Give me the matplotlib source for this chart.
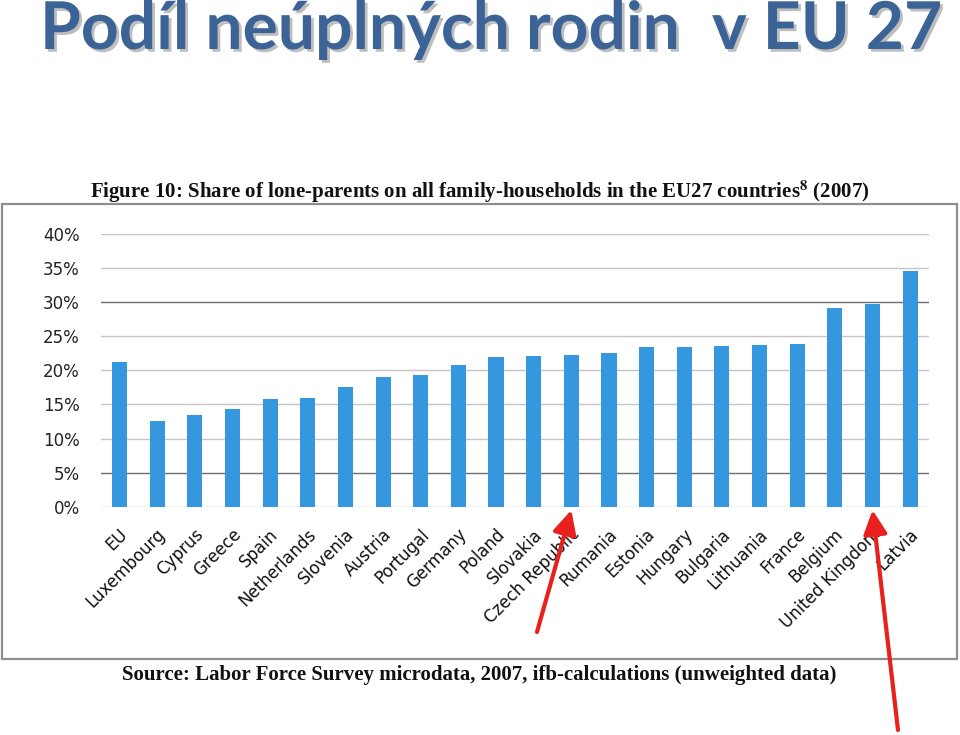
import numpy as np
import matplotlib
matplotlib.use("Agg")
import matplotlib.pyplot as plt
import matplotlib.patches as mpatches
import matplotlib.patheffects as pe
from matplotlib.ticker import PercentFormatter
from matplotlib.transforms import ScaledTranslation

# data
countries = ["EU", "Luxembourg", "Cyprus", "Greece", "Spain", "Netherlands",
             "Slovenia", "Austria", "Portugal", "Germany", "Poland", "Slovakia",
             "Czech Republic", "Rumania", "Estonia", "Hungary", "Bulgaria",
             "Lithuania", "France", "Belgium", "United Kingdom", "Latvia"]
share = [21.2, 12.6, 13.4, 14.4, 15.8, 16.0, 17.6, 19.0, 19.3, 20.8, 22.0, 22.1,
         22.3, 22.5, 23.4, 23.4, 23.5, 23.7, 23.8, 29.1, 29.7, 34.6]
highlight = ["Czech Republic", "United Kingdom"]
y_ticks = [0, 5, 10, 15, 20, 25, 30, 35, 40]

BAR = "#3597dd"
TITLE_BLUE = "#3b6396"
ARROW_RED = "#e8201e"

fig = plt.figure(figsize=(9.6, 7.35), dpi=100)
W, H = 960, 735

# outer frame of the pasted figure
frame = mpatches.Rectangle((2 / W, (H - 659) / H), 955 / W, (659 - 204) / H,
                           transform=fig.transFigure, fill=False,
                           edgecolor="#8f8f8f", lw=1.6, zorder=0)
fig.add_artist(frame)

ax = fig.add_axes([100.7 / W, (H - 506.7) / H, (929 - 100.7) / W, (506.7 - 234) / H])
x = np.arange(len(countries))
vals = np.array(share) / 100
ax.bar(x, vals, width=0.4, color=BAR, zorder=3)

ax.set_xlim(-0.5, len(countries) - 0.5)
ax.set_ylim(0, 0.40)
ax.set_yticks(np.array(y_ticks) / 100)
ax.yaxis.set_major_formatter(PercentFormatter(1.0, decimals=0))
ax.grid(axis="y", color="#c4c4c4", lw=1.0, zorder=0)
for i, gl in enumerate(ax.get_ygridlines()):
    if y_ticks[i] in (5, 30):
        gl.set_color("#6e6e6e")
for s in ax.spines.values():
    s.set_visible(False)
ax.tick_params(axis="both", length=0)
ax.tick_params(axis="y", pad=15, labelsize=12, labelcolor="#222222")

ax.set_xticks(x)
ax.set_xticklabels(countries, rotation=45, ha="right", va="center",
                   rotation_mode="anchor", fontsize=12, color="#111111")
ax.tick_params(axis="x", pad=18)
off = ScaledTranslation(4 / 72, 0, fig.dpi_scale_trans)
for lab in ax.get_xticklabels():
    lab.set_transform(lab.get_transform() + off)

# red arrows pointing at the highlighted countries
tails = {"Czech Republic": (537, H - 632), "United Kingdom": (898, H - 730)}
for name in highlight:
    i = countries.index(name)
    ax.annotate("", xy=(i, -0.005), xycoords="data",
                xytext=tails[name], textcoords="figure pixels",
                annotation_clip=False,
                arrowprops=dict(arrowstyle="-|>,head_length=0.8,head_width=0.4",
                                mutation_scale=18, color=ARROW_RED, lw=3,
                                shrinkA=0, shrinkB=0))

# slide title
fig.text(40 / W, 1 - 49 / H, "Podíl neúplných rodin  v EU 27", family="Lato",
         fontweight="bold", fontsize=47.5, color=TITLE_BLUE, ha="left",
         va="baseline",
         path_effects=[pe.withSimplePatchShadow(offset=(2, -2),
                                                shadow_rgbFace="#7f7f7f",
                                                alpha=0.5)])

# figure caption and source, as in the report
plt.rcParams["mathtext.fontset"] = "stix"
fig.text(480 / W, 1 - 198 / H,
         r"Figure 10: Share of lone-parents on all family-households in the EU27 countries$^{\mathbf{8}}$ (2007)",
         family="Liberation Serif", fontweight="bold", fontsize=15,
         ha="center", va="baseline", color="#111111")
fig.text(479 / W, 1 - 680 / H,
         "Source: Labor Force Survey microdata, 2007, ifb-calculations (unweighted data)",
         family="Liberation Serif", fontweight="bold", fontsize=15,
         ha="center", va="baseline", color="#111111")

fig.savefig("out.png", dpi=100)
